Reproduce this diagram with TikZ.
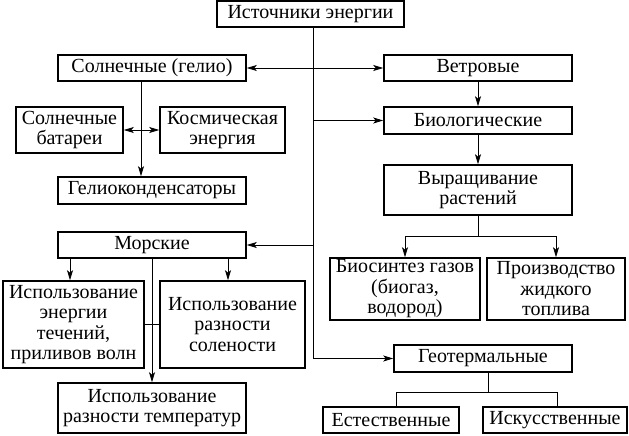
\documentclass[tikz,border=0pt]{standalone}
\usepackage{fontspec}
\setmainfont{Liberation Serif}
\usetikzlibrary{arrows.meta}
\begin{document}
\begin{tikzpicture}[x=1pt, y=-1pt,
		box/.style={draw, line width=1.6pt, inner sep=0pt, align=center, font=\rmfamily\fontsize{20}{20.5}\selectfont},
		link/.style={line width=0.8pt},
		tip/.tip={Stealth[length=10pt,width=6pt,inset=2.5pt]},
		arr/.style={link, -tip}]
	
	\def \trunk{313}
	\def \helx{141}
	
	\useasboundingbox (0,0) rectangle (629,436);
	
	% TOP
	\node[box, minimum width=187, minimum height=26] (src) at (310.5,14) {Источники энергии};
	
	% SOLAR
	\node[box, minimum width=188, minimum height=26] (sol) at (152,68) {Солнечные (гелио)};
	\node[box, minimum width=107, minimum height=46] (bat) at (69.5,130) {Солнечные\\батареи};
	\node[box, minimum width=125, minimum height=46] (cosm) at (222.5,130) {Космическая\\энергия};
	\node[box, minimum width=188, minimum height=27] (helio) at (152,190.5) {Гелиоконденсаторы};
	
	% SEA
	\node[box, minimum width=188, minimum height=26] (sea) at (152,245) {Морские};
	\node[box, minimum width=141, minimum height=87] (tide) at (73.5,324.5) {Использование\\энергии\\течений,\\приливов волн};
	\node[box, minimum width=145, minimum height=87] (salt) at (232.5,324.5) {Использование\\разности\\солености};
	\node[box, minimum width=188, minimum height=50] (temp) at (152,408) {Использование\\разности температур};
	
	% WIND AND BIO
	\node[box, minimum width=188, minimum height=26] (wind) at (478,68) {Ветровые};
	\node[box, minimum width=188, minimum height=27] (bio) at (478,120.5) {Биологические};
	\node[box, minimum width=188, minimum height=50] (grow) at (478,190) {Выращивание\\растений};
	\node[box, minimum width=150, minimum height=62] (bgas) at (405,289) {Биосинтез газов\\(биогаз,\\водород)};
	\node[box, minimum width=138, minimum height=62] (fuel) at (556,289) {Производство\\жидкого\\топлива};
	
	% GEO
	\node[box, minimum width=178, minimum height=27] (geo) at (483,358.5) {Геотермальные};
	\node[box, minimum width=136, minimum height=26] (nat) at (391,420) {Естественные};
	\node[box, minimum width=144, minimum height=26] (art) at (555,420) {Искусственные};
	
	% TRUNK
	\coordinate (t) at (\trunk,0);
	\draw[arr] (src.south -| t) |- (geo.west);
	\draw[arr] (sol.east -| t) -- (sol.east);
	\draw[arr] (wind.west -| t) -- (wind.west);
	\draw[arr] (bio.west -| t) -- (bio.west);
	\draw[arr] (sea.east -| t) -- (sea.east);
	
	% SOLAR LINKS
	\coordinate (h) at (\helx,0);
	\draw[arr] (sol.south -| h) -- (helio.north -| h);
	\draw[link, tip-tip] (bat.east) -- (cosm.west);
	
	% SEA LINKS
	\draw[arr] (sea.south -| 70,0) -- (tide.north -| 70,0);
	\draw[arr] (sea.south -| 228,0) -- (salt.north -| 228,0);
	\draw[arr] (sea.south) -- (temp.north);
	\draw[link] (tide.east) -- (salt.west);
	
	% BIO LINKS
	\draw[arr] (wind.south) -- (bio.north);
	\draw[arr] (bio.south) -- (grow.north);
	\coordinate (gs) at (478,236);
	\draw[link] (grow.south) -- (gs);
	\draw[arr] (gs) -| (bgas.north);
	\draw[arr] (gs) -| (fuel.north);
	
	% GEO LINKS
	\coordinate (gg) at (488,392);
	\draw[link] (geo.south -| gg) -- (gg);
	\draw[link] (gg) -| ([xshift=5]nat.north);
	\draw[link] (gg) -| ([xshift=2]art.north);
	
\end{tikzpicture}
\end{document}
